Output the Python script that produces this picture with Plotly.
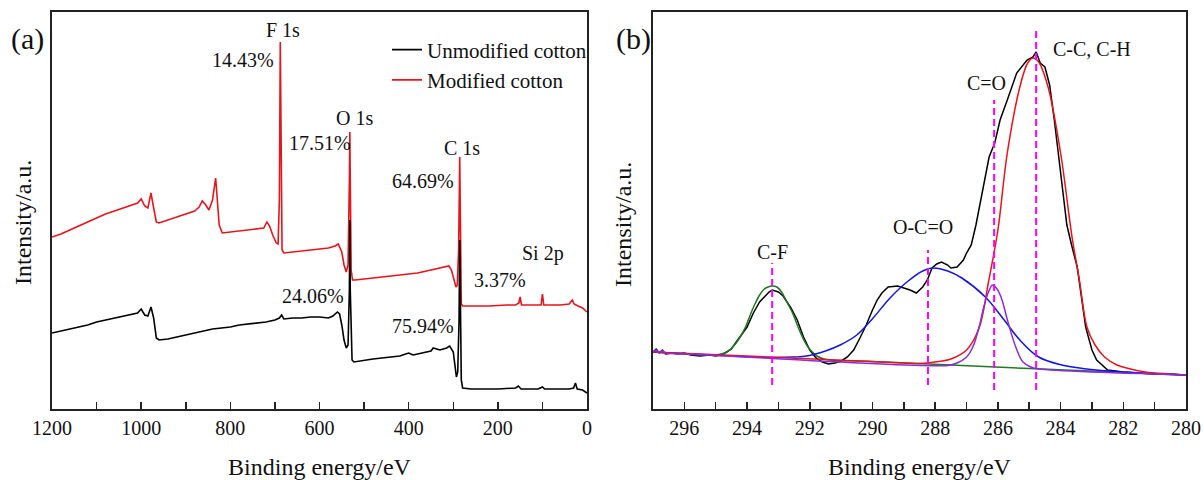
import plotly.graph_objects as go

FONT = "Liberation Serif, Times New Roman, serif"

# ---------------- Panel (a): XPS survey spectra ----------------
unmod_ev = [1200, 1180, 1160, 1140, 1120, 1100, 1080, 1060, 1040, 1020, 1008, 1000, 992, 985, 978, 972,
            966, 960, 940, 920, 900, 880, 860, 840, 820, 800, 780, 760, 740, 720, 700, 690, 685, 680,
            660, 640, 620, 600, 580, 570, 560, 555, 550, 545, 540, 536, 533, 532, 531, 529, 527, 523,
            500, 480, 460, 440, 420, 400, 390, 370, 350, 345, 330, 315, 308, 300, 296, 293, 290, 287,
            285.5, 284, 282, 279, 260, 240, 200, 160, 154, 148, 110, 100, 95, 60, 40, 30, 26, 22, 10, 0]
unmod_int = [76, 78, 80, 82, 84, 87, 89, 91, 93, 95, 96, 100, 94, 93, 102, 91,
             71, 69, 70, 72, 74, 76, 78, 80, 81, 82, 84, 85, 86, 87, 89, 91, 94, 90,
             91, 91, 92, 92, 91, 93, 97, 95, 84, 69, 61, 64, 119, 189, 119, 59, 49, 47,
             49, 50, 51, 52, 53, 56, 54, 56, 58, 61, 59, 61, 63, 57, 39, 32, 37, 89,
             169, 109, 29, 21, 20, 20, 20, 21, 23, 20, 20, 22, 20, 20, 20, 21, 26, 20, 19, 16]

mod_ev = [1200, 1180, 1160, 1140, 1120, 1100, 1080, 1060, 1040, 1020, 1008, 1000, 992, 985, 978, 972,
          966, 960, 940, 920, 900, 880, 870, 863, 855, 848, 840, 835, 833, 830, 825, 818, 800, 780,
          760, 740, 725, 718, 712, 705, 697, 693, 690, 688, 686, 684, 680, 660, 640, 620, 600, 580,
          565, 558, 550, 545, 540, 536, 533, 532, 531, 529, 526, 520, 500, 480, 460, 440, 420, 400,
          380, 360, 340, 320, 310, 304, 298, 294, 291, 288, 285.5, 284, 282, 279, 260, 220, 180, 160,
          153, 150, 147, 120, 103, 100, 97, 60, 40, 33, 29, 20, 10, 5, 0]
mod_int = [172, 175, 179, 183, 187, 191, 195, 198, 201, 204, 206, 210, 203, 201, 216, 201,
           187, 186, 189, 192, 195, 198, 202, 208, 204, 199, 209, 227, 231, 214, 184, 176, 177, 178,
           179, 180, 181, 187, 183, 174, 166, 165, 209, 367, 249, 159, 156, 157, 158, 159, 160, 161,
           163, 165, 157, 144, 137, 144, 229, 277, 229, 139, 129, 129, 130, 131, 132, 133, 134, 135,
           136, 138, 140, 142, 143, 139, 129, 122, 124, 159, 252, 159, 105, 103, 103, 103, 104, 104,
           106, 112, 104, 104, 104, 115, 104, 104, 105, 109, 105, 103, 101, 99, 97]

survey_labels = ["F 1s", "14.43%", "O 1s", "17.51%", "C 1s", "64.69%", "Si 2p", "3.37%", "24.06%", "75.94%"]
survey_label_ev = [683, 772, 522, 600, 281, 369, 99, 195, 615, 369]
survey_label_int = [379, 349, 291, 266, 261, 228, 156, 129, 113, 83]

# ---------------- Panel (b): C 1s high resolution ----------------
raw_ev = [297.0, 296.9, 296.8, 296.7, 296.6, 296.4, 296.2, 296.0, 295.8, 295.5, 295.2, 295.0, 294.75,
          294.5, 294.3, 294.0, 293.8, 293.6, 293.45, 293.3, 293.2, 293.0, 292.85, 292.6, 292.4, 292.2,
          292.0, 291.8, 291.6, 291.4, 291.2, 291.0, 290.8, 290.6, 290.4, 290.2, 290.0, 289.85, 289.7,
          289.5, 289.2, 289.0, 288.8, 288.6, 288.5, 288.4, 288.25, 288.1, 287.95, 287.8, 287.6, 287.5,
          287.3, 287.1, 287.0, 286.85, 286.7, 286.55, 286.4, 286.28, 286.1, 285.93, 285.7, 285.4,
          285.07, 284.88, 284.78, 284.65, 284.5, 284.35, 284.2, 283.95, 283.8, 283.65, 283.47, 283.2,
          283.0, 282.85, 282.5, 282.0, 281.5, 281.0, 280.5, 280.0]
raw_int = [57, 60, 56, 59, 55, 56, 55, 56, 54, 53, 54, 53, 55,
           60, 69, 82, 96, 107, 112, 117, 119, 117, 113, 101, 89, 72,
           59, 51, 47, 45, 46, 48, 52, 59, 71, 84, 99, 109, 116,
           122, 123, 121, 119, 116, 119, 122, 129, 141, 145, 147, 144, 141,
           142, 149, 156, 164, 184, 209, 234, 252, 266, 289, 309, 336,
           349, 352, 357, 346, 342, 324, 289, 222, 184, 164, 142, 82,
           59, 49, 39, 37, 36, 35, 35, 34]

cf_ev = [297, 295.2, 294.9, 294.64, 294.4, 294.22, 294.05, 293.9, 293.75, 293.6, 293.45, 293.33, 293.2,
         293.05, 292.9, 292.73, 292.55, 292.4, 292.25, 292.1, 291.95, 291.77, 291.55, 291.35, 290, 285, 280]
cf_int = [57, 54, 54.5, 57, 64, 72, 82, 94, 105, 114, 120, 122, 123,
          122, 117, 107, 96, 84, 73, 64, 58, 53, 50, 49, 47.5, 40.5, 34]

occo_ev = [297, 293.2, 292.5, 292.1, 291.5, 291.03, 290.5, 289.98, 289.44, 288.9, 288.4, 288.07, 287.6,
           287.15, 286.4, 285.8, 285.3, 284.7, 283.96, 283.3, 282.7, 281.5, 280]
occo_int = [57, 51.5, 52, 53, 58, 64, 74, 91, 111, 127, 138, 141, 138,
            131, 112, 89, 69, 52, 44, 40.5, 38.5, 36, 34]

cc_ev = [297, 289, 288.5, 288.0, 287.5, 287.0, 286.6, 286.3, 286.0, 285.7, 285.3, 285.05, 284.88, 284.7,
         284.4, 284.0, 283.63, 283.4, 283.16, 282.9, 282.6, 282.2, 281.9, 281.3, 280.5, 280.0]
cc_int = [57, 46, 45.5, 47, 50, 59, 81, 127, 179, 256, 322, 346, 351, 347,
          322, 256, 171, 129, 82, 64, 52, 44, 41, 37, 35, 34]

co_ev = [297, 296.9, 296.8, 296.7, 296.6, 296.5, 287.6, 287.3, 287.0, 286.8, 286.6, 286.45, 286.3, 286.17,
         286.05, 285.9, 285.67, 285.43, 285.2, 284.95, 284.8, 280]
co_int = [57, 59, 56, 58.5, 55, 55.5, 43.5, 46, 52, 62, 82, 102, 117, 124,
          121, 112, 86, 62, 47, 42, 40.5, 34]

peak_pos = [293.2, 288.23, 286.12, 284.78]
peak_line_top = [146, 159, 309, 379]
peak_line_bottom = [24, 24, 19, 19]
peak_labels = ["C-F", "O-C=O", "C=O", "C-C, C-H"]
peak_label_ev = [293.2, 288.4, 286.35, 283.0]
peak_label_int = [157, 182, 326, 360]

fig = go.Figure()

# panel (a)
fig.add_trace(go.Scatter(x=mod_ev, y=mod_int, mode="lines", name="Modified cotton", legendrank=2,
                         line=dict(color="#e8141b", width=1.6), xaxis="x", yaxis="y"))
fig.add_trace(go.Scatter(x=unmod_ev, y=unmod_int, mode="lines", name="Unmodified cotton", legendrank=1,
                         line=dict(color="#000000", width=1.6), xaxis="x", yaxis="y"))

# panel (b)
fig.add_trace(go.Scatter(x=raw_ev, y=raw_int, mode="lines", showlegend=False,
                         line=dict(color="#000000", width=1.5), xaxis="x2", yaxis="y2"))
for xs, ys, col in [(cf_ev, cf_int, "#1f7a1f"), (occo_ev, occo_int, "#1414e6"),
                    (cc_ev, cc_int, "#e8141b"), (co_ev, co_int, "#8a2be2")]:
    fig.add_trace(go.Scatter(x=xs, y=ys, mode="lines", showlegend=False, line_shape="spline",
                             line=dict(color=col, width=1.5), xaxis="x2", yaxis="y2"))
for x0, yt, yb in zip(peak_pos, peak_line_top, peak_line_bottom):
    fig.add_trace(go.Scatter(x=[x0, x0], y=[yb, yt], mode="lines", showlegend=False,
                             line=dict(color="#ff00ff", width=2, dash="7px,4px"), xaxis="x2", yaxis="y2"))

annotations = []
for t, x, y in zip(survey_labels, survey_label_ev, survey_label_int):
    annotations.append(dict(text=t, x=x, y=y, xref="x", yref="y", showarrow=False,
                            xanchor="center", yanchor="middle",
                            font=dict(size=20, family=FONT, color="#111")))
for t, x, y in zip(peak_labels, peak_label_ev, peak_label_int):
    annotations.append(dict(text=t, x=x, y=y, xref="x2", yref="y2", showarrow=False,
                            xanchor="center", yanchor="middle",
                            font=dict(size=20, family=FONT, color="#111")))
annotations += [
    dict(text="(a)", x=-0.022, y=0.932, xref="paper", yref="paper", showarrow=False,
         xanchor="center", yanchor="middle", font=dict(size=30, family=FONT, color="#111")),
    dict(text="(b)", x=0.5132, y=0.932, xref="paper", yref="paper", showarrow=False,
         xanchor="center", yanchor="middle", font=dict(size=30, family=FONT, color="#111")),
    dict(text="Intensity/a.u.", x=-0.0256, y=0.471, xref="paper", yref="paper", showarrow=False,
         xanchor="center", yanchor="middle", textangle=-90, font=dict(size=24, family=FONT, color="#111")),
    dict(text="Intensity/a.u.", x=0.5035, y=0.466, xref="paper", yref="paper", showarrow=False,
         xanchor="center", yanchor="middle", textangle=-90, font=dict(size=24, family=FONT, color="#111")),
]

common_x = dict(showline=True, mirror=True, linecolor="#222", linewidth=2, showgrid=False, zeroline=False,
                ticks="inside", ticklen=7, tickwidth=1.5, tickcolor="#222", ticklabelstandoff=0,
                tickfont=dict(size=20, family=FONT, color="#111"), automargin=False,
                title=dict(text="Binding energy/eV", font=dict(size=24, family=FONT, color="#111"), standoff=20))
common_y = dict(showline=True, mirror=True, linecolor="#222", linewidth=2, showgrid=False, zeroline=False,
                showticklabels=False, ticks="", range=[0, 397], domain=[0, 1], automargin=False)

fig.update_layout(
    width=1204, height=480,
    margin=dict(l=52, r=18, t=12, b=71, autoexpand=False),
    paper_bgcolor="white", plot_bgcolor="white",
    font=dict(family=FONT, color="#111"),
    xaxis=dict(domain=[0, 0.4718], range=[1200, 0], dtick=200, tick0=0,
               minor=dict(dtick=100, ticks="inside", ticklen=7, tickwidth=1.5, tickcolor="#222"), **common_x),
    xaxis2=dict(domain=[0.530, 1], range=[297, 280], dtick=2, tick0=280, anchor="y2",
                minor=dict(dtick=1, ticks="inside", ticklen=7, tickwidth=1.5, tickcolor="#222"), **common_x),
    yaxis=dict(anchor="x", **common_y),
    yaxis2=dict(anchor="x2", **common_y),
    legend=dict(x=0.2954, y=0.956, xanchor="left", yanchor="top", bgcolor="rgba(0,0,0,0)",
                font=dict(size=21, family=FONT, color="#111"), tracegroupgap=0),
    annotations=annotations,
    showlegend=True,
)

fig.write_html("out.html", config={"displayModeBar": False, "staticPlot": True},
               post_script="document.body.style.margin='0';")
